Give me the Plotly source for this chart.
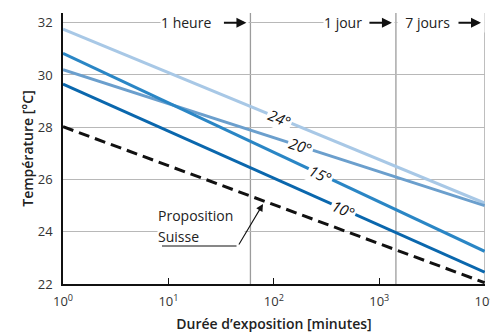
import numpy as np
import plotly.graph_objects as go

# ---------------- data ----------------
x_minutes = [1, 10000]
temp_24 = [31.75, 25.10]
temp_20 = [30.20, 25.00]
temp_15 = [30.83, 23.25]
temp_10 = [29.65, 22.45]
temp_suisse = [28.02, 22.05]

series_names = ["24°", "20°", "15°", "10°"]
series_values = [temp_24, temp_20, temp_15, temp_10]
series_colors = ["#a8c8e6", "#6b9fcd", "#2a86c5", "#0a67ad"]
label_logx = [2.05, 2.257, 2.44, 2.657]   # where each curve label sits (log10 minutes)

y_ticks = [22, 24, 26, 28, 30, 32]
x_ticks = [1, 10, 100, 1000, 10000]
x_ticktext = ["10<sup>0</sup>", "10<sup>1</sup>", "10<sup>2</sup>", "10<sup>3</sup>", "10<sup>4</sup>"]

period_minutes = [60, 1440, 10080]
period_labels = ["1 heure", "1 jour", "7 jours"]

# ---------------- layout geometry ----------------
W, H = 490, 334
ML, MR, MT, MB = 63, 5, 13, 50
x_range = [0, np.log10(10080)]
y_range = [22, 32.37]
pw, ph = W - ML - MR, H - MT - MB
px_per_dec = pw / (x_range[1] - x_range[0])
px_per_deg = ph / (y_range[1] - y_range[0])

FONT = "Open Sans"
fig = go.Figure()

for name, vals, col in zip(series_names, series_values, series_colors):
    fig.add_trace(go.Scatter(x=x_minutes, y=vals, mode="lines",
                             line=dict(color=col, width=3), name=name,
                             hoverinfo="skip"))

fig.add_trace(go.Scatter(x=x_minutes, y=temp_suisse, mode="lines",
                         line=dict(color="#111111", width=3, dash="11px,6px"),
                         name="Proposition Suisse", hoverinfo="skip"))

annotations = []
# curve labels
for name, vals, lx in zip(series_names, series_values, label_logx):
    lx0, lx1 = np.log10(x_minutes[0]), np.log10(x_minutes[1])
    slope = (vals[1] - vals[0]) / (lx1 - lx0)
    ly = vals[0] + slope * (lx - lx0)
    ang = np.degrees(np.arctan(-slope * px_per_deg / px_per_dec))
    annotations.append(dict(x=lx, y=ly, xref="x", yref="y", text="<i>" + name + "</i>",
                            showarrow=False, textangle=ang, bgcolor="white",
                            borderpad=1, font=dict(family=FONT, size=15, color="#111")))

# period labels along the top
annotations.append(dict(x=np.log10(period_minutes[0]), y=32, xref="x", yref="y",
                        text=period_labels[0], showarrow=False, xanchor="right",
                        xshift=-1, width=87, align="left", bgcolor="white", borderpad=0,
                        font=dict(family=FONT, size=14, color="#222")))
annotations.append(dict(x=np.log10(period_minutes[1]), y=32, xref="x", yref="y",
                        text=period_labels[1], showarrow=False, xanchor="right",
                        xshift=-1, width=70, align="left", bgcolor="white", borderpad=0,
                        font=dict(family=FONT, size=14, color="#222")))
annotations.append(dict(x=np.log10(period_minutes[1]), y=32, xref="x", yref="y",
                        text="\u00a0\u00a0" + period_labels[2], showarrow=False, xanchor="left",
                        xshift=1, width=86, align="left", bgcolor="white", borderpad=0,
                        font=dict(family=FONT, size=14, color="#222")))
for pm in period_minutes:
    annotations.append(dict(x=np.log10(pm), y=32, xref="x", yref="y", text="",
                            showarrow=True, ax=-24, ay=0, axref="pixel", ayref="pixel",
                            xshift=-4, arrowhead=2, arrowsize=1, arrowwidth=2,
                            arrowcolor="#111"))

# Proposition Suisse label
lab_x = (157 - ML) / px_per_dec
annotations.append(dict(x=lab_x, y=y_range[0] + (H - MB - 215) / px_per_deg, xref="x", yref="y",
                        text="Proposition", showarrow=False, xanchor="left", width=86,
                        align="left", bgcolor="white", borderpad=0,
                        font=dict(family=FONT, size=14, color="#222")))
annotations.append(dict(x=lab_x, y=y_range[0] + (H - MB - 236) / px_per_deg, xref="x", yref="y",
                        text="Suisse", showarrow=False, xanchor="left", width=86,
                        align="left", bgcolor="white", borderpad=0,
                        font=dict(family=FONT, size=14, color="#222")))
und_y = y_range[0] + (H - MB - 246) / px_per_deg
und_x0 = (162 - ML) / px_per_dec
und_x1 = (238 - ML) / px_per_dec
tip_x = (263 - ML) / px_per_dec
tip_y = y_range[0] + (H - MB - 204) / px_per_deg
annotations.append(dict(x=und_x0, y=und_y, ax=und_x1, ay=und_y, axref="x", ayref="y",
                        xref="x", yref="y", text="", showarrow=True, arrowhead=0,
                        arrowwidth=1.1, arrowcolor="#111"))
annotations.append(dict(x=tip_x, y=tip_y, ax=und_x1, ay=und_y, axref="x", ayref="y",
                        xref="x", yref="y", text="", showarrow=True, arrowhead=2,
                        arrowsize=1.3, arrowwidth=1.1, arrowcolor="#111"))

shapes = []
for pm in period_minutes:
    shapes.append(dict(type="line", xref="x", yref="paper", x0=pm, x1=pm, y0=0, y1=1,
                       line=dict(color="#9c9c9c", width=1.3), layer="below"))

fig.update_layout(
    width=W, height=H, margin=dict(l=ML, r=MR, t=MT, b=MB),
    paper_bgcolor="white", plot_bgcolor="white", showlegend=False,
    font=dict(family=FONT, size=13, color="#333"),
    annotations=annotations, shapes=shapes,
    xaxis=dict(type="log", range=x_range, tickvals=x_ticks, ticktext=x_ticktext,
               automargin=False,
               ticks="inside", ticklen=6, tickwidth=1.2, tickcolor="#111",
               showline=True, linecolor="#111", linewidth=1.5, showgrid=False,
               zeroline=False, tickfont=dict(size=13, color="#333"),
               ticklabeloverflow="allow", ticklabelstandoff=5,
               title=dict(text="Durée d’exposition [minutes]", standoff=10,
                          font=dict(family=FONT, size=14, color="#222", weight=600))),
    yaxis=dict(range=y_range, tickvals=y_ticks, showline=True, linecolor="#111",
               automargin=False,
               linewidth=1.5, showgrid=True, gridcolor="#b8b8b8", gridwidth=1,
               zeroline=False, ticks="", tickfont=dict(size=13, color="#333"),
               ticklabelstandoff=6,
               title=dict(text="Température [°C]", standoff=1,
                          font=dict(family=FONT, size=14, color="#222", weight=600))),
)

fig.write_html("out.html")
